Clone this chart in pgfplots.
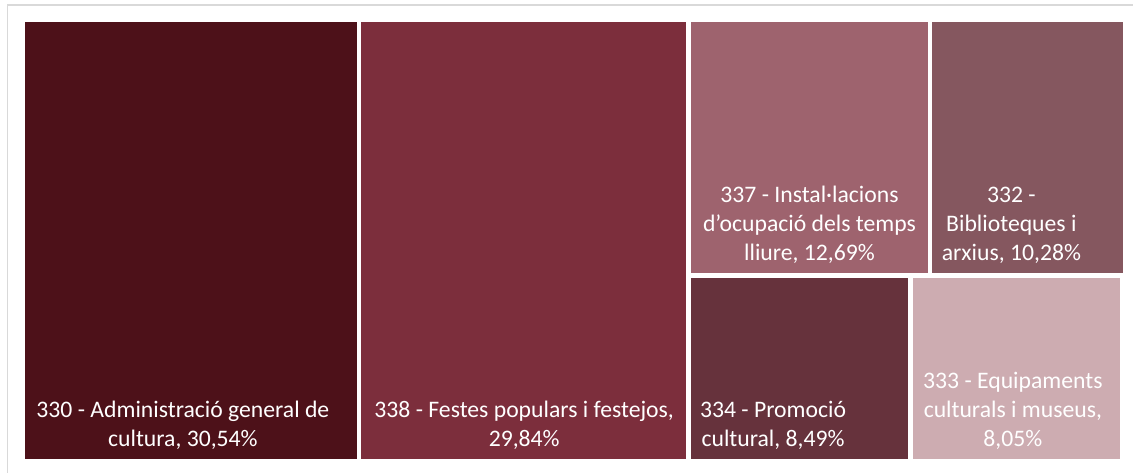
\documentclass[border=0pt]{standalone}
\usepackage{pgfplots}
\pgfplotsset{compat=1.18}
\usepackage{fontspec}
\setmainfont{Carlito}
\definecolor{c330}{RGB}{77,17,25}
\definecolor{c338}{RGB}{124,46,60}
\definecolor{c337}{RGB}{158,99,110}
\definecolor{c332}{RGB}{133,87,95}
\definecolor{c334}{RGB}{102,50,60}
\definecolor{c333}{RGB}{205,172,177}
\definecolor{frame}{RGB}{217,217,217}
\newcommand{\lab}{\fontsize{23.7bp}{29bp}\selectfont}
\tikzset{lbl/.style={anchor=base, text=white, font=\lab, inner sep=0pt}}
\begin{document}
\begin{tikzpicture}
\begin{axis}[x=1bp, y=1bp, y dir=reverse, xmin=0, xmax=1134, ymin=0, ymax=473,
  hide axis, scale only axis, clip=false]
% bounding area
\addplot[draw=none, forget plot] coordinates {(0,0) (1134,473)};
% outer frame
\addplot[draw=frame, line width=1.4bp, forget plot] coordinates {(7.5,473) (7.5,5) (1134,5)};
% treemap tiles (x0,y0)-(x1,y1), pixel units
\addplot[fill=c330, draw=none] coordinates {(25,21.7) (357.3,21.7) (357.3,459.3) (25,459.3)} -- cycle;
\addplot[fill=c338, draw=none] coordinates {(361.7,21.7) (686.5,21.7) (686.5,459.3) (361.7,459.3)} -- cycle;
\addplot[fill=c337, draw=none] coordinates {(691,21.7) (928.3,21.7) (928.3,273.2) (691,273.2)} -- cycle;
\addplot[fill=c332, draw=none] coordinates {(932.7,21.7) (1123.3,21.7) (1123.3,273.2) (932.7,273.2)} -- cycle;
\addplot[fill=c334, draw=none] coordinates {(691,278.3) (909,278.3) (909,459.3) (691,459.3)} -- cycle;
\addplot[fill=c333, draw=none] coordinates {(914,278.3) (1120.7,278.3) (1120.7,459.3) (914,459.3)} -- cycle;
% labels
\node[lbl] at (axis cs:183,417.5) {330 - Administració general de};
\node[lbl] at (axis cs:183,446.5) {cultura, 30,54\%};
\node[lbl] at (axis cs:524.5,417.5) {338 - Festes populars i festejos,};
\node[lbl] at (axis cs:524.5,446.5) {29,84\%};
\node[lbl] at (axis cs:810,202.5) {337 - Instal·lacions};
\node[lbl] at (axis cs:810,231.5) {d’ocupació dels temps};
\node[lbl] at (axis cs:810,260.5) {lliure, 12,69\%};
\node[lbl] at (axis cs:1012,202.5) {332 -};
\node[lbl] at (axis cs:1012,231.5) {Biblioteques i};
\node[lbl] at (axis cs:1012,260.5) {arxius, 10,28\%};
\node[lbl] at (axis cs:773.5,417.5) {334 - Promoció};
\node[lbl] at (axis cs:773.5,446.5) {cultural, 8,49\%};
\node[lbl] at (axis cs:1013.5,388.5) {333 - Equipaments};
\node[lbl] at (axis cs:1013.5,417.5) {culturals i museus,};
\node[lbl] at (axis cs:1013.5,446.5) {8,05\%};
\end{axis}
\end{tikzpicture}
\end{document}
